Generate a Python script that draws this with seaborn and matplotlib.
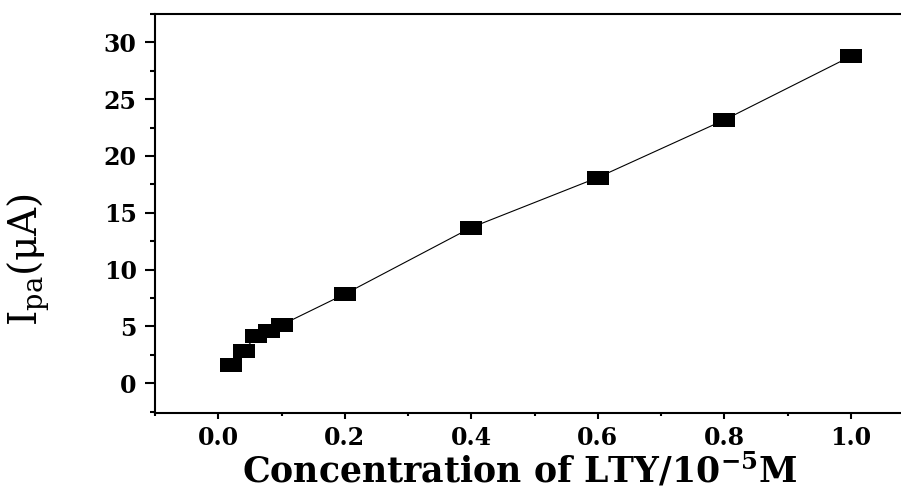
import matplotlib
matplotlib.use("Agg")
import matplotlib.pyplot as plt
import seaborn as sns
import pandas as pd
from matplotlib.ticker import MultipleLocator

# data
concentration = [0.02, 0.04, 0.06, 0.08, 0.10, 0.20, 0.40, 0.60, 0.80, 1.00]
ipa = [1.6, 2.84, 4.14, 4.6, 5.12, 7.84, 13.7, 18.1, 23.17, 28.77]
x_ticks = [0.0, 0.2, 0.4, 0.6, 0.8, 1.0]
x_tick_labels = ["0.0", "0.2", "0.4", "0.6", "0.8", "1.0"]
y_ticks = [0, 5, 10, 15, 20, 25, 30]
y_tick_labels = ["0", "5", "10", "15", "20", "25", "30"]

sns.set_style("ticks")
plt.rcParams['font.family'] = ['DejaVu Serif', 'Liberation Serif']
plt.rcParams['mathtext.fontset'] = 'dejavuserif'
plt.rcParams['mathtext.default'] = 'regular'
for k in ['text.color', 'axes.labelcolor', 'xtick.color', 'ytick.color', 'xtick.labelcolor', 'ytick.labelcolor']:
    plt.rcParams[k] = 'black'

df = pd.DataFrame({"conc": concentration, "ipa": ipa})

fig = plt.figure(figsize=(9.01, 4.90), dpi=100)
ax = fig.add_axes([155/901, 77/490, 759/901, 399/490])

rect = [(-1.55, -1), (1.55, -1), (1.55, 1), (-1.55, 1), (-1.55, -1)]
sns.lineplot(data=df, x="conc", y="ipa", ax=ax, color="black", linewidth=0.8,
             marker=rect, markersize=15.6, markeredgewidth=0,
             markerfacecolor="black", sort=False, legend=False)

ax.set_xlim(-0.1, 1.1)
ax.set_ylim(-2.63, 32.5)
ax.set_xticks(x_ticks)
ax.set_xticklabels(x_tick_labels)
ax.set_yticks(y_ticks)
ax.set_yticklabels(y_tick_labels)
ax.xaxis.set_minor_locator(MultipleLocator(0.1))
ax.yaxis.set_minor_locator(MultipleLocator(2.5))

for s in ["left", "bottom", "top", "right"]:
    ax.spines[s].set_linewidth(1.5)
    ax.spines[s].set_color("black")

ax.tick_params(axis="y", which="major", direction="out", length=7.2, width=1.5, pad=6, colors="black")
ax.tick_params(axis="y", which="minor", direction="out", length=3.6, width=1.5, colors="black")
ax.tick_params(axis="x", which="major", direction="out", length=4.3, width=1.5, pad=5, colors="black")
ax.tick_params(axis="x", which="minor", direction="out", length=2.2, width=1.5, colors="black")
ax.tick_params(top=False, right=False, which="both")
for lab in ax.get_xticklabels() + ax.get_yticklabels():
    lab.set_fontsize(17)
    lab.set_fontweight("bold")
    lab.set_color("black")

ax.set_xlabel(r"Concentration of LTY/10$^{\mathbf{-5}}$M", fontsize=25, fontweight="bold", color="black")
ax.xaxis.set_label_coords((520-155)/759, -(451-413)/399)
ax.set_ylabel("I$_{pa}$(μA)", fontsize=28, color="black")
ax.yaxis.set_label_coords(-(155-52)/759, (413-260)/399)

fig.savefig("out.png", dpi=100)
